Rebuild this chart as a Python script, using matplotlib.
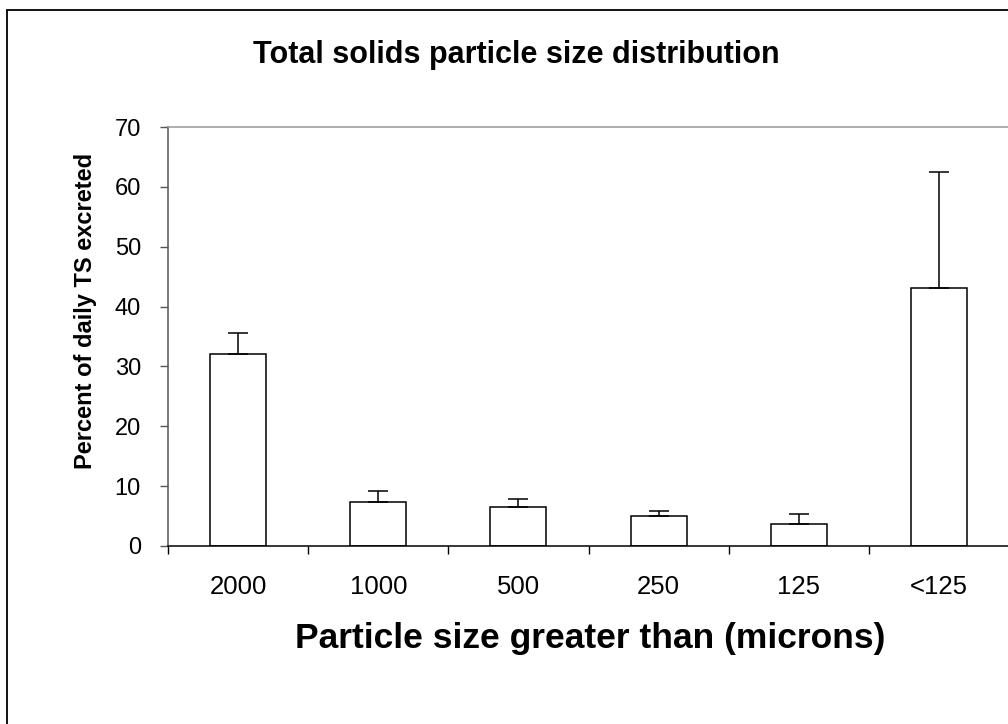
import matplotlib
matplotlib.use("Agg")
import matplotlib.pyplot as plt
from matplotlib.patches import Rectangle

# values
categories = ["2000", "1000", "500", "250", "125", "<125"]
percent_ts = [32.1, 7.4, 6.45, 5.0, 3.7, 43.1]
err_upper = [3.5, 1.8, 1.4, 0.9, 1.7, 19.4]

plt.rcParams['font.family'] = ['Liberation Sans', 'DejaVu Sans']

W, H = 1008, 724
fig = plt.figure(figsize=(W / 100, H / 100), dpi=100)

# outer frame (runs off the right and bottom edge, as in the reference)
fig.patches.append(
    Rectangle((7 / W, -0.1), 1.2, 1 - 10 / H + 0.1,
              transform=fig.transFigure, fill=False,
              edgecolor="black", linewidth=1.3)
)

ax = fig.add_axes([168 / W, 1 - 546 / H,
                   (1009 - 168) / W, (546 - 127) / H])

x = list(range(len(categories)))

ax.bar(x, percent_ts, width=0.4, color="white",
       edgecolor="black", linewidth=1.1, zorder=2)

ax.errorbar(x, percent_ts,
            yerr=[[0] * len(err_upper), err_upper],
            fmt="none", ecolor="black", elinewidth=1.1,
            capsize=7.5, capthick=1.1, zorder=3)

ax.set_xlim(-0.5, 5.5)
ax.set_ylim(0, 70)
ax.set_yticks(range(0, 71, 10))

# boundary ticks (major) and centred labels (minor)
ax.set_xticks([i - 0.5 for i in range(len(categories) + 1)])
ax.set_xticklabels([])
ax.set_xticks(x, minor=True)
ax.set_xticklabels(categories, minor=True)

ax.tick_params(axis="x", which="major", direction="out",
               length=6, width=1, color="black")
ax.tick_params(axis="x", which="minor", length=0, pad=21,
               labelsize=18.5)
ax.tick_params(axis="y", direction="out", length=6, width=1,
               color="#555555", labelsize=17, pad=13.5)

ax.spines["left"].set_color("#555555")
ax.spines["top"].set_color("#999999")
ax.spines["bottom"].set_color("black")
ax.spines["right"].set_visible(False)
for s in ax.spines.values():
    s.set_linewidth(1.1)

fig.text(86 / W, 1 - 311 / H, "Percent of daily TS excreted",
         fontsize=17, fontweight="bold", rotation=90,
         ha="center", va="center")
fig.text(590 / W, 1 - 648 / H, "Particle size greater than (microns)",
         fontsize=25.5, fontweight="bold", ha="center", va="baseline")
fig.text(516 / W, 1 - 63 / H,
         "Total solids particle size distribution",
         fontsize=22, fontweight="bold", ha="center", va="baseline")

fig.savefig("out.png", dpi=100, facecolor="white")
